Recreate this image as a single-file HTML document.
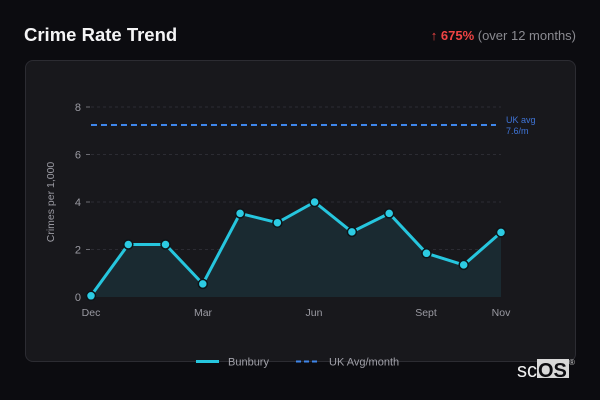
<!DOCTYPE html>
<html>
<head>
<meta charset="utf-8">
<style>
  html,body{margin:0;padding:0;}
  body{width:600px;height:400px;background:#0c0c10;overflow:hidden;position:relative;font-family:"Liberation Sans",sans-serif;}
  .title{position:absolute;left:24px;top:24px;font-size:18.5px;font-weight:bold;color:#f4f4f5;}
  .stat{position:absolute;right:24px;top:28px;font-size:13px;color:#8a8a90;}
  .stat .arr{color:#ef4444;}
  .stat .up{color:#ef4444;font-weight:bold;}
  .card{position:absolute;left:25px;top:60px;width:549px;height:300px;background:#18181c;border:1px solid #2c2c32;border-radius:8px;}
  svg{position:absolute;left:0;top:0;}
</style>
</head>
<body>
<div class="title">Crime Rate Trend</div>
<div class="stat"><span class="arr">↑</span> <span class="up">675%</span> (over 12 months)</div>
<div class="card"></div>
<svg width="600" height="400" viewBox="0 0 600 400" xmlns="http://www.w3.org/2000/svg" font-family="Liberation Sans, sans-serif">
  <g stroke="#2c2c33" stroke-width="1" stroke-dasharray="3,3">
    <line x1="91" y1="107" x2="501" y2="107"/>
    <line x1="91" y1="154.5" x2="501" y2="154.5"/>
    <line x1="91" y1="202" x2="501" y2="202"/>
    <line x1="91" y1="249.5" x2="501" y2="249.5"/>
  </g>
  <g stroke="#6b6b72" stroke-width="1">
    <line x1="86" y1="107" x2="90" y2="107"/>
    <line x1="86" y1="154.5" x2="90" y2="154.5"/>
    <line x1="86" y1="202" x2="90" y2="202"/>
    <line x1="86" y1="249.5" x2="90" y2="249.5"/>
    <line x1="86" y1="297" x2="90" y2="297"/>
  </g>
  <g fill="#9a9aa2" font-size="11" text-anchor="end">
    <text x="81" y="111">8</text>
    <text x="81" y="158.5">6</text>
    <text x="81" y="206">4</text>
    <text x="81" y="253.5">2</text>
    <text x="81" y="301">0</text>
  </g>
  <text transform="translate(54,202) rotate(-90)" fill="#9a9aa2" font-size="10.5" text-anchor="middle">Crimes per 1,000</text>
  <g fill="#9a9aa2" font-size="10.5" text-anchor="middle">
    <text x="91" y="316">Dec</text>
    <text x="203" y="316">Mar</text>
    <text x="314" y="316">Jun</text>
    <text x="426" y="316">Sept</text>
    <text x="501" y="316">Nov</text>
  </g>
  <polygon fill="#1a2a31" points="91,297 91,295.8 128.3,244.5 165.5,244.5 202.8,283.9 240.1,213.4 277.4,222.7 314.6,202 351.9,231.9 389.2,213.4 426.5,253.3 463.7,264.9 501,232.4 501,297"/>
  <line x1="91" y1="125" x2="496" y2="125" stroke="#3f86ea" stroke-width="2" stroke-dasharray="6,4"/>
  <text x="506" y="123" fill="#3f74d6" font-size="9">UK avg</text>
  <text x="506" y="134" fill="#3f74d6" font-size="9">7.6/m</text>
  <polyline fill="none" stroke="#26c6de" stroke-width="3" stroke-linejoin="round" points="91,295.8 128.3,244.5 165.5,244.5 202.8,283.9 240.1,213.4 277.4,222.7 314.6,202 351.9,231.9 389.2,213.4 426.5,253.3 463.7,264.9 501,232.4"/>
  <g fill="#2ccbe3" stroke="#0d1418" stroke-width="1.5">
    <circle cx="91" cy="295.8" r="4.5"/>
    <circle cx="128.3" cy="244.5" r="4.5"/>
    <circle cx="165.5" cy="244.5" r="4.5"/>
    <circle cx="202.8" cy="283.9" r="4.5"/>
    <circle cx="240.1" cy="213.4" r="4.5"/>
    <circle cx="277.4" cy="222.7" r="4.5"/>
    <circle cx="314.6" cy="202" r="4.5"/>
    <circle cx="351.9" cy="231.9" r="4.5"/>
    <circle cx="389.2" cy="213.4" r="4.5"/>
    <circle cx="426.5" cy="253.3" r="4.5"/>
    <circle cx="463.7" cy="264.9" r="4.5"/>
    <circle cx="501" cy="232.4" r="4.5"/>
  </g>
  <line x1="196" y1="361.5" x2="219" y2="361.5" stroke="#26c6de" stroke-width="3"/>
  <text x="228" y="365.5" fill="#a0a0a8" font-size="11">Bunbury</text>
  <line x1="296" y1="361.5" x2="320" y2="361.5" stroke="#3f86ea" stroke-width="2" stroke-dasharray="5,3"/>
  <text x="329" y="365.5" fill="#a0a0a8" font-size="11">UK Avg/month</text>
  <rect x="537" y="359" width="32" height="19" fill="#d8d8d8"/>
  <text x="517" y="377" fill="#f0f0f0" font-size="20">sc</text>
  <text x="538" y="377" fill="#0c0c10" font-size="20" font-weight="bold">OS</text>
  <text x="569" y="365" fill="#c8c8c8" font-size="8">®</text>
</svg>
</body>
</html>
